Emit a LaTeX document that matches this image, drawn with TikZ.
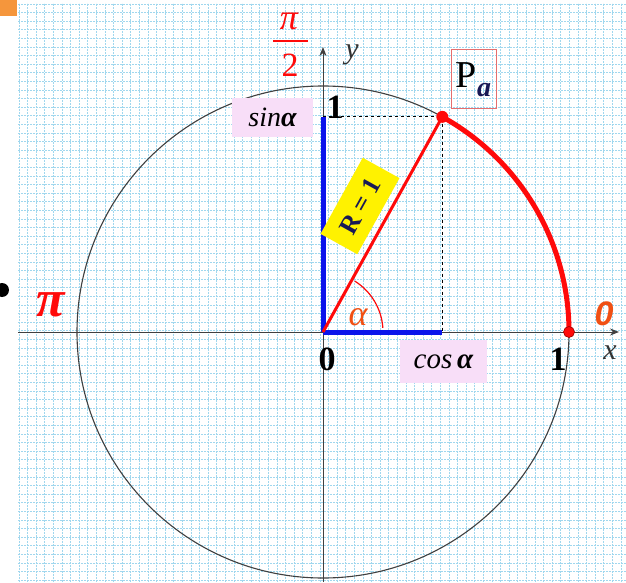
\documentclass[tikz,border=0pt]{standalone}
\usepackage{fontspec}
\newfontfamily\arialfont{Liberation Sans}
\newfontfamily\timesfont{Liberation Serif}
\usetikzlibrary{arrows.meta,calc}
\definecolor{gridc}{RGB}{160,215,238}
\definecolor{pinkbox}{RGB}{248,222,248}
\definecolor{myred}{RGB}{255,10,10}
\definecolor{myblue}{RGB}{10,20,235}
\definecolor{myorange}{RGB}{240,80,20}
\definecolor{navy}{RGB}{25,25,85}
\definecolor{pred}{RGB}{230,110,110}
\definecolor{slideorange}{RGB}{245,150,60}
\tikzset{
  axis/.style={draw=black!75, line width=1pt, -{Stealth[length=9pt,width=7pt]}},
  labelbox/.style={fill=pinkbox, inner sep=0pt, minimum width=81pt, minimum height=39pt},
  bignum/.style={inner sep=0pt},
  redpt/.style={fill=myred, draw=red!60!black, line width=0.6pt},
  txt/.style={inner sep=0pt},
}
\begin{document}
\begin{tikzpicture}[x=1pt,y=1pt]
\useasboundingbox (0,0) rectangle (626,582);
\fill[white] (0,0) rectangle (626,582);
% graph paper
\begin{scope}
\clip (18,0) rectangle (626,579);
\foreach \i in {0,...,71} {
  \draw[gridc, line width=0.9pt, dash pattern=on 2pt off 1pt] ({19+8.6*\i},0) -- ({19+8.6*\i},579);
}
\foreach \j in {0,...,68} {
  \draw[gridc, line width=0.9pt, dash pattern=on 2pt off 1pt] (18,{578-8.6*\j}) -- (626,{578-8.6*\j});
}
\end{scope}
% slide decorations
\fill[slideorange] (0,582) rectangle (17,566);
\fill[black] (2,292) circle (7);
% coordinates
\coordinate (O) at (323,250);
\coordinate (P) at ({323+246*cos(61)},{250+246*sin(61)});
\coordinate (X1) at (569,250);
\coordinate (Sy) at (323,{250+246*sin(61)});
\coordinate (Cx) at ({323+246*cos(61)},250);
\coordinate (xl) at (18,250);
\coordinate (xr) at (619,250);
\coordinate (yb) at (323,0);
\coordinate (yt) at (323,535);
% circle and axes
\draw[black!75, line width=1.1pt] (O) circle (246);
\draw[axis] (xl) -- (xr);
\draw[axis] (yb) -- (yt);
% dashed projections
\draw[black, line width=0.8pt, dashed] (Sy) -- (P) -- (Cx);
% blue segments
\draw[myblue, line width=5pt] (O) -- (Sy);
\draw[myblue, line width=5pt] (O) -- (Cx);
% radius
\draw[myred, line width=3pt] (O) -- (P);
% arc
\draw[myred, line width=5pt] (P) arc[start angle=61, end angle=0, radius=246];
% angle mark
\draw[myred, line width=1.2pt] ($(O)+(4:60)$) arc[start angle=4, end angle=58, radius=60];
\fill[myred] (P) circle (6);
\draw[redpt] (X1) circle (5.5);
% labels
\node[labelbox] (sinb) at (272.5,464.5) {\fontsize{28}{30}\selectfont\timesfont\itshape sin\bfseries α};
\node[labelbox, minimum width=87pt, minimum height=43pt] (cosb) at (443.5,220.5) {\fontsize{29}{32}\selectfont\timesfont\itshape cos\,\bfseries α};
\node[draw=pred, line width=1pt, minimum width=45pt, minimum height=59pt, inner sep=0pt] (pa) at (473.5,502.5) {\fontsize{38}{40}\selectfont\timesfont P\raisebox{-9pt}{\fontsize{28}{30}\selectfont\color{navy}\bfseries\itshape a}};
\node[fill=yellow, rotate=61, minimum width=87pt, minimum height=42pt, inner sep=0pt] (rb) at (360,376) {\fontsize{26}{28}\selectfont\timesfont\bfseries\color{navy} R = 1};
\node[bignum] (one-y) at (335,475) {\fontsize{34}{36}\selectfont\timesfont\bfseries 1};
\node[bignum] (zero) at (327,223) {\fontsize{34}{36}\selectfont\timesfont\bfseries 0};
\node[bignum] (one-x) at (558,223) {\fontsize{34}{36}\selectfont\timesfont\bfseries 1};
\node[txt, text=black!80] (xlab) at (610,229) {\fontsize{30}{32}\selectfont\timesfont\itshape x};
\node[txt, text=black!80] (ylab) at (352,527) {\fontsize{30}{32}\selectfont\timesfont\itshape y};
\node[txt, text=myred] (pitop) at (289,561) {\fontsize{36}{38}\selectfont\timesfont\itshape π};
\node[txt, text=myred] (two) at (290,517) {\fontsize{34}{36}\selectfont\timesfont 2};
\coordinate (barl) at (273,541);
\coordinate (barr) at (308,541);
\draw[myred, line width=1.2pt] (barl) -- (barr);
\node[txt, text=myred] (pil) at (51,277) {\fontsize{52}{54}\selectfont\timesfont\bfseries\itshape π};
\node[txt, text=myorange] (zr) at (604,268) {\fontsize{34}{36}\selectfont\arialfont\bfseries\itshape 0};
\node[txt, text=myorange] (al) at (358,265) {\fontsize{36}{38}\selectfont\timesfont\itshape α};
\end{tikzpicture}
\end{document}
